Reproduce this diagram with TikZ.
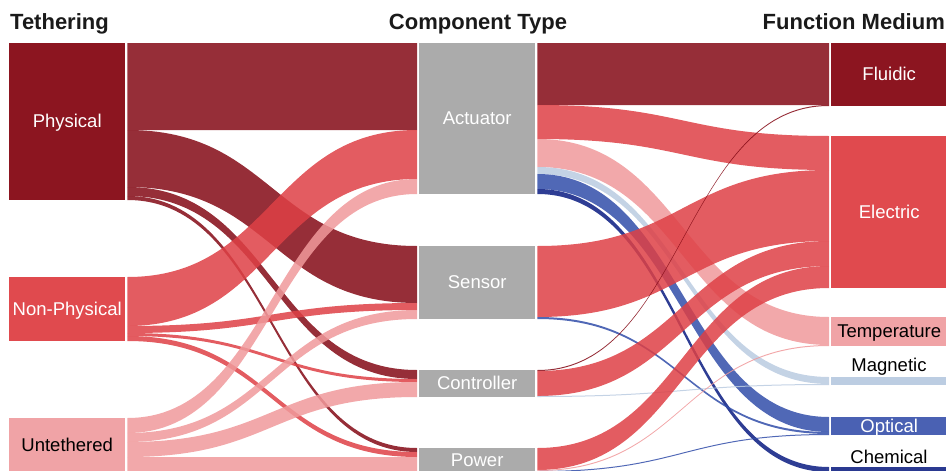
\documentclass[tikz,border=0pt]{standalone}
\usepackage{fontspec}
\setmainfont{Liberation Sans}
\usetikzlibrary{calc}
\definecolor{physN}{HTML}{8C1520}
\definecolor{npN}{HTML}{E04A4E}
\definecolor{uN}{HTML}{F0A3A6}
\definecolor{greyN}{HTML}{ABABAB}
\definecolor{magN}{HTML}{BCCDE2}
\definecolor{optN}{HTML}{4A61B3}
\definecolor{chemN}{HTML}{2A3990}
\definecolor{physL}{HTML}{840915}
\definecolor{npL}{HTML}{DE4045}
\definecolor{uL}{HTML}{F0999B}
\definecolor{magL}{HTML}{BACBE1}
\definecolor{optL}{HTML}{314DA9}
\definecolor{chemL}{HTML}{091B81}
\definecolor{headC}{HTML}{1A1A1A}
\newcommand\sband[6]{%
  \fill[#6, fill opacity=0.85] let \p1=([xshift=2pt,yshift=-#2pt]#1.north east),
               \p2=([xshift=-2pt,yshift=-#4pt]#3.north west)
           in (\p1) .. controls ({0.5*\x1+0.5*\x2},\y1) and ({0.5*\x1+0.5*\x2},\y2) .. (\p2)
              -- (\x2,{\y2-#5pt}) .. controls ({0.5*\x1+0.5*\x2},{\y2-#5pt}) and ({0.5*\x1+0.5*\x2},{\y1-#5pt}) .. (\x1,{\y1-#5pt}) -- cycle;}
\tikzset{
  nbox/.style={anchor=north west, inner sep=0pt, minimum width=116pt, draw=none},
  lbl/.style={inner sep=0pt, text height=0.716em, text depth=0pt, yshift=-2.5pt, font=\fontsize{18.5}{22}\selectfont},
  lblb/.style={inner sep=0pt, anchor=base, font=\fontsize{18.5}{22}\selectfont},
  head/.style={inner sep=0pt, anchor=base, text=headC, font=\fontsize{22}{26}\selectfont\bfseries}
}
\begin{document}
\begin{tikzpicture}[x=1pt,y=-1pt]
\useasboundingbox (0,0) rectangle (946,471);
\clip (0,0) rectangle (946,471);
% headings
\node[head, anchor=base west] (h1) at (10,30) {Tethering};
\node[head] (h2) at (478,30) {Component Type};
\node[head, anchor=base east] (h3) at (945,30) {Function Medium};
% left nodes
\node[nbox, fill=physN, minimum height=157pt] (phys) at (9,43) {};
\node[nbox, fill=npN, minimum height=64pt] (np) at (9,277) {};
\node[nbox, fill=uN, minimum height=54pt] (ut) at (9,418) {};
% middle nodes
\node[nbox, fill=greyN, minimum height=151pt] (act) at (419,43) {};
\node[nbox, fill=greyN, minimum height=73pt] (sens) at (419,246) {};
\node[nbox, fill=greyN, minimum height=27pt] (ctrl) at (419,370) {};
\node[nbox, fill=greyN, minimum height=24pt] (pow) at (419,448) {};
% right nodes
\node[nbox, fill=physN, minimum height=63pt] (flu) at (831,43) {};
\node[nbox, fill=npN, minimum height=152pt] (ele) at (831,136) {};
\node[nbox, fill=uN, minimum height=29pt] (temp) at (831,317) {};
\node[nbox, fill=magN, minimum height=8pt] (mag) at (831,377) {};
\node[nbox, fill=optN, minimum height=18pt] (opt) at (831,417) {};
\node[nbox, fill=chemN, minimum height=5pt] (chem) at (831,467) {};
% left bands
\sband{phys}{0}{act}{0}{87}{physL}
\sband{phys}{87}{sens}{0}{57}{physL}
\sband{phys}{144}{ctrl}{0}{9}{physL}
\sband{phys}{153}{pow}{0}{4}{physL}
\sband{np}{0}{act}{87}{49}{npL}
\sband{np}{49}{sens}{57}{7}{npL}
\sband{np}{56}{ctrl}{9}{3}{npL}
\sband{np}{59}{pow}{4}{5}{npL}
\sband{ut}{0}{act}{136}{15}{uL}
\sband{ut}{15}{sens}{64}{9}{uL}
\sband{ut}{24}{ctrl}{12}{15}{uL}
\sband{ut}{39}{pow}{9}{15}{uL}
% right bands
\sband{act}{0}{flu}{0}{62}{physL}
\sband{act}{62}{ele}{0}{34}{npL}
\sband{act}{96}{temp}{0}{28}{uL}
\sband{act}{124}{mag}{0}{7}{magL}
\sband{act}{131}{opt}{0}{15}{optL}
\sband{act}{146}{chem}{0}{5}{chemL}
\sband{sens}{0}{ele}{34}{71}{npL}
\sband{sens}{71}{opt}{15}{2}{optL}
\sband{ctrl}{0}{flu}{62}{1}{physL}
\sband{ctrl}{1}{ele}{105}{25}{npL}
\sband{ctrl}{26}{mag}{7}{1}{magL}
\sband{pow}{0}{ele}{130}{22}{npL}
\sband{pow}{22}{temp}{28}{1}{uL}
\sband{pow}{23}{opt}{17}{1}{optL}
% labels
\node[lbl, text=white] (physl) at (phys.center) {Physical};
\node[lbl, text=white] (npl) at (np.center) {Non-Physical};
\node[lbl, text=black] (utl) at (ut.center) {Untethered};
\node[lbl, text=white] (actl) at (act.center) {Actuator};
\node[lbl, text=white] (sensl) at (sens.center) {Sensor};
\node[lbl, text=white] (ctrll) at (ctrl.center) {Controller};
\node[lbl, text=white] (powl) at (pow.center) {Power};
\node[lbl, text=white] (flul) at (flu.center) {Fluidic};
\node[lbl, text=white] (elel) at (ele.center) {Electric};
\node[lbl, text=black] (templ) at (temp.center) {Temperature};
\node[lblb, text=black] (magl) at (889,371) {Magnetic};
\node[lbl, text=white] (optl) at (opt.center) {Optical};
\node[lblb, text=black] (cheml) at (889,463) {Chemical};
\end{tikzpicture}
\end{document}
